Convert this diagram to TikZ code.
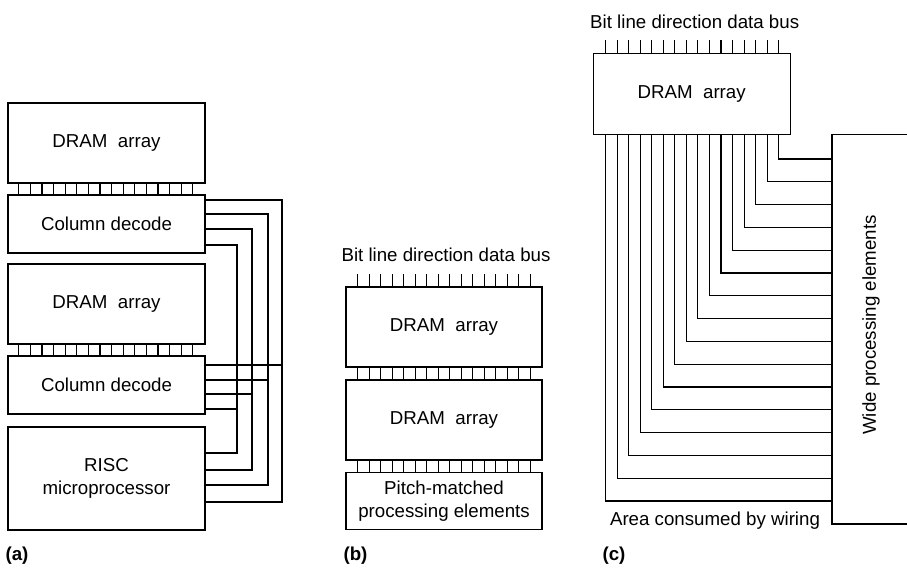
\documentclass[tikz,border=0pt]{standalone}
\usepackage{fontspec}
\setmainfont{Liberation Sans}
\usetikzlibrary{calc}
\begin{document}
\begin{tikzpicture}[x=1pt,y=-1pt,line width=1.1pt,
  blk/.style={draw, minimum width=197pt, inner sep=0pt, align=center, font=\fontsize{18.7}{23.3}\selectfont},
  lbl/.style={font=\fontsize{18.7}{23.3}\selectfont, inner sep=0pt},
  tag/.style={font=\fontsize{18.7}{23.3}\selectfont\bfseries, inner sep=0pt},
  wire/.style={line width=1.1pt}]
\useasboundingbox (0,0) rectangle (907,569);

% ---------------- (a) ----------------
\node[blk, minimum height=80pt]  (a1) at (106.5,143)   {DRAM\ \ array};
\node[blk, minimum height=58pt]  (a2) at (106.5,224)   {Column decode};
\node[blk, minimum height=80pt]  (a3) at (106.5,304)   {DRAM\ \ array};
\node[blk, minimum height=58pt]  (a4) at (106.5,385)   {Column decode};
\node[blk, minimum height=103pt] (a5) at (106.5,478.5) {RISC\\microprocessor};
\foreach \i in {0,...,15} {
  \draw[wire] ($(a1.south west)+(11.3+11.6*\i,0)$) -- ($(a2.north west)+(11.3+11.6*\i,0)$);
  \draw[wire] ($(a3.south west)+(11.3+11.6*\i,0)$) -- ($(a4.north west)+(11.3+11.6*\i,0)$);
}
\foreach \yt/\xv/\ym/\yb in {200/282/365/502, 214/268/380/485, 229/252/394/470, 245/237/409/453} {
  \draw[wire] (a2.east |- 0,\yt) -| (\xv,\yb) -- (a5.east |- 0,\yb);
  \draw[wire] (a4.east |- 0,\ym) -- (\xv,\ym);
}
\node[tag] (ta) at (17,556) {(a)};

% ---------------- (b) ----------------
\node[lbl, anchor=base] (bt) at (446,261.7) {Bit line direction data bus};
\node[blk, minimum width=196pt, minimum height=80pt]   (b1) at (444,327) {DRAM\ \ array};
\node[blk, minimum width=196pt, minimum height=80pt]   (b2) at (444,420) {DRAM\ \ array};
\node[blk, minimum width=196pt, minimum height=56.6pt] (b3) at (444,501) {Pitch-matched\\processing elements};
\foreach \i in {0,...,15} {
  \draw[wire] ($(b1.north west)+(12.3+11.5*\i,-12)$) -- ($(b1.north west)+(12.3+11.5*\i,0)$);
  \draw[wire] ($(b1.south west)+(12.3+11.5*\i,0)$) -- ($(b2.north west)+(12.3+11.5*\i,0)$);
  \draw[wire] ($(b2.south west)+(12.3+11.5*\i,0)$) -- ($(b3.north west)+(12.3+11.5*\i,0)$);
}
\node[tag] (tb) at (355.5,556) {(b)};

% ---------------- (c) ----------------
\node[lbl, anchor=base] (ct) at (694.7,28.3) {Bit line direction data bus};
\node[blk, minimum width=196.7pt, minimum height=81pt] (c1) at (691.7,93.8) {DRAM\ \ array};
\coordinate (peTL) at (832,134.3);
\coordinate (peBL) at (832,524);
\draw[wire] (925,134.3) -- (peTL) -- (peBL) -- (925,524);
\foreach \i in {0,...,15} {
  \draw[wire] ($(c1.north west)+(12.7+11.55*\i,-12.6)$) -- ($(c1.north west)+(12.7+11.55*\i,0)$);
  \draw[wire] ($(c1.south west)+(12.7+11.55*\i,0)$) |- (peTL |- 0,{501-22.8*\i});
}
\node[lbl, rotate=90] (pet) at (871,325) {Wide processing elements};
\node[lbl, anchor=base] (area) at (715,525.3) {Area consumed by wiring};
\node[tag] (tc) at (614,556) {(c)};
\end{tikzpicture}
\end{document}
